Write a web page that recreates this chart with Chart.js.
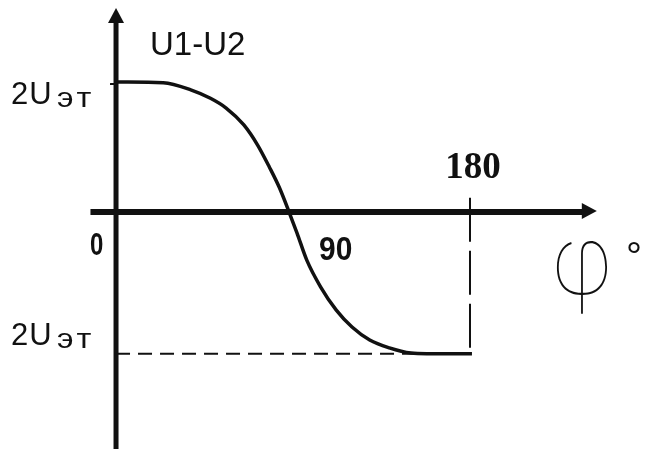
<!DOCTYPE html>
<html>
<head>
<meta charset="utf-8">
<script src="https://cdn.jsdelivr.net/npm/chart.js@4/dist/chart.umd.min.js"></script>
<style>
  html, body { margin: 0; padding: 0; background: #fff; }
  #wrap { width: 646px; height: 449px; }
</style>
</head>
<body>
<div id="wrap"><canvas id="c" width="646" height="449"></canvas></div>
<script>
// Phase angle φ (degrees) and the difference U1-U2 (in units of Uэт)
const phaseDeg = [0, 6, 24, 38, 48, 56, 65, 72, 78, 83, 88, 92, 97, 104, 112, 120, 129, 139, 150, 158, 181];
const diffU    = [2.0, 2.0, 1.99, 1.88, 1.75, 1.60, 1.34, 1.03, 0.69, 0.38, 0.0, -0.32, -0.74, -1.15, -1.51, -1.77, -1.97, -2.09, -2.17, -2.18, -2.18];

// Reference levels of the diagram
const upperLevel = 2.0;      // 2Uэт
const lowerLevel = -2.18;    // 2Uэт (negative side)
const endPhase = 180;

// Axis labels
const yAxisTitle = 'U1-U2';
const levelMain = '2U';
const levelSub = 'эт';
const xTickLabels = [
  { value: 0, text: '0' },
  { value: 90, text: '90' },
  { value: 180, text: '180' }
];
const xAxisSymbol = 'φ';
const xAxisUnit = '°';

// Extents of the drawn axes (data units)
const xAxisFrom = -13, xAxisTo = 244.5;
const yAxisTop = 3.14;

const ink = '#111';

// draw text squeezed or stretched horizontally around its anchor
function drawScaledText(ctx, text, x, y, sx) {
  ctx.save();
  ctx.translate(x, y);
  ctx.scale(sx, 1);
  ctx.fillText(text, 0, 0);
  ctx.restore();
}

const diagram = {
  id: 'diagram',
  beforeDatasetsDraw(chart) {
    const { ctx } = chart;
    const xs = chart.scales.x, ys = chart.scales.y;
    const x0 = xs.getPixelForValue(0), y0 = ys.getPixelForValue(0);
    ctx.save();
    ctx.strokeStyle = ink;
    ctx.fillStyle = ink;

    // dashed guides at the lower level and at 180°
    ctx.lineWidth = 2;
    ctx.setLineDash([14, 8]);
    ctx.beginPath();
    ctx.moveTo(x0, ys.getPixelForValue(lowerLevel));
    ctx.lineTo(xs.getPixelForValue(endPhase), ys.getPixelForValue(lowerLevel));
    ctx.stroke();
    ctx.setLineDash([44, 9]);
    ctx.beginPath();
    ctx.moveTo(xs.getPixelForValue(endPhase), ys.getPixelForValue(0.22));
    ctx.lineTo(xs.getPixelForValue(endPhase), ys.getPixelForValue(lowerLevel));
    ctx.stroke();
    ctx.setLineDash([]);

    // vertical axis with arrow
    const yTop = ys.getPixelForValue(yAxisTop);
    ctx.lineWidth = 5;
    ctx.beginPath();
    ctx.moveTo(x0, yTop + 12);
    ctx.lineTo(x0, chart.height);
    ctx.stroke();
    ctx.beginPath();
    ctx.moveTo(x0, yTop);
    ctx.lineTo(x0 - 8, yTop + 15);
    ctx.lineTo(x0 + 8, yTop + 15);
    ctx.closePath();
    ctx.fill();

    // small tick at the upper level
    ctx.lineWidth = 2;
    ctx.beginPath();
    ctx.moveTo(x0 - 6, ys.getPixelForValue(upperLevel) + 2);
    ctx.lineTo(x0, ys.getPixelForValue(upperLevel) + 2);
    ctx.stroke();

    // horizontal axis with arrow
    const xEnd = xs.getPixelForValue(xAxisTo);
    ctx.lineWidth = 6;
    ctx.beginPath();
    ctx.moveTo(xs.getPixelForValue(xAxisFrom), y0);
    ctx.lineTo(xEnd - 12, y0);
    ctx.stroke();
    ctx.beginPath();
    ctx.moveTo(xEnd, y0 - 1);
    ctx.lineTo(xEnd - 15, y0 - 9);
    ctx.lineTo(xEnd - 15, y0 + 7);
    ctx.closePath();
    ctx.fill();
    ctx.restore();
  },
  afterDatasetsDraw(chart) {
    const { ctx } = chart;
    const xs = chart.scales.x, ys = chart.scales.y;
    const x0 = xs.getPixelForValue(0), y0 = ys.getPixelForValue(0);
    ctx.save();
    ctx.fillStyle = ink;
    ctx.textBaseline = 'alphabetic';
    ctx.textAlign = 'left';

    // axis title
    ctx.font = '33px "Liberation Sans", Arial, sans-serif';
    ctx.fillText(yAxisTitle, x0 + 34, ys.getPixelForValue(upperLevel) - 27);

    // level labels: "2U" with the subscript "эт"
    const drawLevel = (yBase) => {
      ctx.font = '31px "Liberation Sans", Arial, sans-serif';
      ctx.letterSpacing = '1px';
      ctx.fillText(levelMain, 11, yBase);
      ctx.font = '27px "Liberation Sans", Arial, sans-serif';
      ctx.letterSpacing = '3px';
      drawScaledText(ctx, levelSub, 57, yBase + 3, 1.2);
      ctx.letterSpacing = '0px';
    };
    drawLevel(ys.getPixelForValue(upperLevel) + 22);
    drawLevel(ys.getPixelForValue(lowerLevel) - 9);

    // tick labels
    ctx.font = 'bold 32px "Liberation Sans", Arial, sans-serif';
    drawScaledText(ctx, xTickLabels[0].text, x0 - 26, y0 + 43, 0.75);
    ctx.font = 'bold 34px "Liberation Sans", Arial, sans-serif';
    drawScaledText(ctx, xTickLabels[1].text, xs.getPixelForValue(xTickLabels[1].value) + 26, y0 + 48, 0.88);
    ctx.textAlign = 'center';
    ctx.font = 'bold 37px "Liberation Serif", "Times New Roman", serif';
    ctx.fillText(xTickLabels[2].text, xs.getPixelForValue(xTickLabels[2].value) + 3, y0 - 34);

    // φ and degree sign
    ctx.font = '100 96px Inter, "Noto Sans", sans-serif';
    drawScaledText(ctx, xAxisSymbol, 582, y0 + 82, 0.85);
    ctx.font = '40px "Liberation Sans", Arial, sans-serif';
    ctx.fillText(xAxisUnit, 634, y0 + 58);
    ctx.restore();
  }
};

new Chart(document.getElementById('c'), {
  type: 'line',
  data: {
    datasets: [{
      data: phaseDeg.map((p, i) => ({ x: p, y: diffU[i] })),
      borderColor: ink,
      borderWidth: 3.5,
      pointRadius: 0,
      fill: false,
      cubicInterpolationMode: 'monotone'
    }]
  },
  options: {
    responsive: false,
    animation: false,
    layout: { padding: 0 },
    plugins: { legend: { display: false }, tooltip: { enabled: false } },
    scales: {
      x: { type: 'linear', min: -59, max: 269.5, display: false },
      y: { type: 'linear', min: -3.646, max: 3.262, display: false }
    }
  },
  plugins: [diagram]
});
</script>
</body>
</html>
